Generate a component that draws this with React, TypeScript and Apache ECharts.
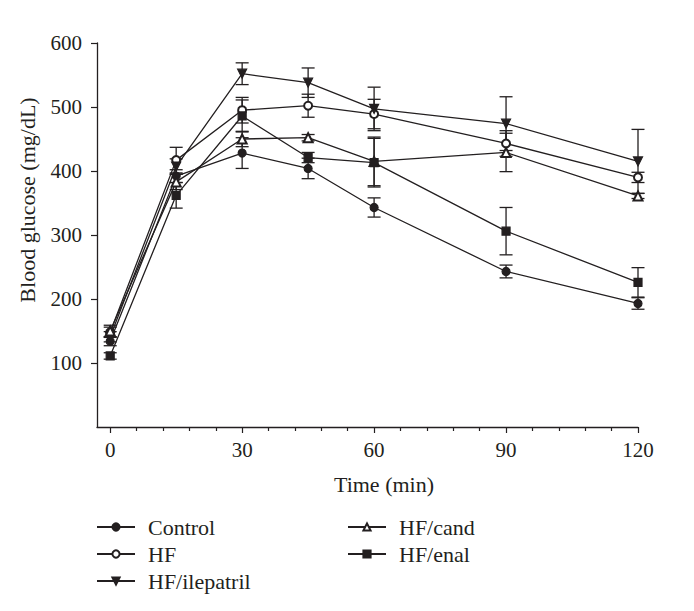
import React, { useEffect, useRef } from "react";
import * as echarts from "echarts";

const times = [0, 15, 30, 45, 60, 90, 120];
const control = [134, 392, 428, 404, 343, 243, 193];
const controlErr = [7, 10, 24, 16, 15, 10, 9];
const hf = [148, 417, 495, 502, 489, 443, 390];
const hfErr = [8, 20, 20, 18, 23, 20, 8];
const ilepatril = [141, 407, 552, 538, 497, 474, 415];
const ilepatrilErr = [8, 12, 17, 23, 34, 42, 50];
const cand = [150, 383, 450, 452, 415, 429, 361];
const candErr = [9, 12, 12, 5, 38, 30, 4];
const enal = [111, 362, 486, 421, 413, 306, 226];
const enalErr = [5, 20, 25, 8, 38, 37, 23];

const xLabels = [0, 30, 60, 90, 120];
const xMinorTicks = [6, 12, 18, 24, 36, 42, 48, 54, 66, 72, 78, 84, 96, 102, 108, 114];
const yLabels = [100, 200, 300, 400, 500, 600];

const INK = "#231f20";
const FONT = "'Liberation Serif', 'Times New Roman', serif";

const seriesDefs = [
  { name: "Control", values: control, errs: controlErr, symbol: "circle", size: 8 },
  { name: "HF", values: hf, errs: hfErr, symbol: "emptyCircle", size: 8 },
  { name: "HF/ilepatril", values: ilepatril, errs: ilepatrilErr, symbol: "path://M0,0L10,0L5,9Z", size: 9 },
  { name: "HF/cand", values: cand, errs: candErr, symbol: "emptyTriangle", size: 9 },
  { name: "HF/enal", values: enal, errs: enalErr, symbol: "rect", size: 8 },
];

export default function App() {
  const ref = useRef<HTMLDivElement>(null);
  useEffect(() => {
    if (!ref.current) return;
    const chart = echarts.init(ref.current, null, { renderer: "svg" });

    const errSeries = seriesDefs.map((d) => ({
      type: "custom",
      name: "err-" + d.name,
      z: 1,
      silent: true,
      encode: { x: 0, y: 1 },
      data: times.map((t, i) => [t, d.values[i], d.errs[i]]),
      renderItem: (params: any, api: any) => {
        const x = api.value(0);
        const y = api.value(1);
        const e = api.value(2);
        const top = api.coord([x, y + e]);
        const bot = api.coord([x, y - e]);
        const hw = 6.5;
        const st = { stroke: INK, lineWidth: 1.3 };
        return {
          type: "group",
          children: [
            { type: "line", shape: { x1: top[0], y1: top[1], x2: bot[0], y2: bot[1] }, style: st },
            { type: "line", shape: { x1: top[0] - hw, y1: top[1], x2: top[0] + hw, y2: top[1] }, style: st },
            { type: "line", shape: { x1: bot[0] - hw, y1: bot[1], x2: bot[0] + hw, y2: bot[1] }, style: st },
          ],
        };
      },
    }));

    const lineSeries = seriesDefs.map((d) => ({
      type: "line",
      name: d.name,
      z: 3,
      data: times.map((t, i) => [t, d.values[i]]),
      symbol: d.symbol,
      symbolSize: d.size,
      showAllSymbol: true,
      lineStyle: { color: INK, width: 1.3 },
      itemStyle: { color: INK, borderColor: INK, borderWidth: 1.2 },
      emphasis: { disabled: true },
    }));

    const legendCommon = {
      orient: "vertical",
      itemWidth: 38,
      itemHeight: 9,
      itemGap: 5,
      padding: 0,
      selectedMode: false,
      textStyle: { fontFamily: FONT, fontSize: 22, color: INK, padding: [0, 0, 0, 8] },
    };

    chart.setOption({
      animation: false,
      backgroundColor: "#fff",
      grid: { left: 97, right: 56, top: 43, bottom: 184, containLabel: false },
      xAxis: [
        {
          type: "value",
          min: -3,
          max: 120,
          position: "bottom",
          axisLine: { show: true, onZero: false, lineStyle: { color: INK, width: 1.3 } },
          axisTick: { show: true, length: 6, customValues: xLabels, lineStyle: { color: INK, width: 1.2 } },
          axisLabel: { customValues: xLabels, margin: 12, fontFamily: FONT, fontSize: 21, color: INK },
          splitLine: { show: false },
        },
        {
          type: "value",
          min: -3,
          max: 120,
          position: "bottom",
          axisLine: { show: false, onZero: false },
          axisTick: { show: true, length: 4, customValues: xMinorTicks, lineStyle: { color: INK, width: 1.2 } },
          axisLabel: { show: false },
          splitLine: { show: false },
        },
      ],
      yAxis: {
        type: "value",
        min: 0,
        max: 600,
        interval: 100,
        axisLine: { show: true, onZero: false, lineStyle: { color: INK, width: 1.3 } },
        axisTick: { show: true, length: 6, customValues: yLabels, lineStyle: { color: INK, width: 1.2 } },
        axisLabel: { customValues: yLabels, margin: 15, fontFamily: FONT, fontSize: 21, color: INK },
        splitLine: { show: false },
      },
      legend: [
        { ...legendCommon, left: 96, top: 516, data: ["Control", "HF", "HF/ilepatril"] },
        { ...legendCommon, left: 347, top: 516, data: ["HF/cand", "HF/enal"] },
      ],
      graphic: [
        {
          type: "text",
          x: 27,
          y: 200,
          rotation: Math.PI / 2,
          style: {
            text: "Blood glucose (mg/dL)",
            font: `22px ${FONT}`,
            fill: INK,
            textAlign: "center",
            textVerticalAlign: "middle",
            align: "center",
            verticalAlign: "middle",
          },
        },
        {
          type: "text",
          x: 384,
          y: 484,
          style: {
            text: "Time (min)",
            font: `22px ${FONT}`,
            fill: INK,
            textAlign: "center",
            textVerticalAlign: "middle",
            align: "center",
            verticalAlign: "middle",
          },
        },
      ],
      series: [...errSeries, ...lineSeries],
    });
    return () => chart.dispose();
  }, []);
  return <div ref={ref} style={{ width: 694, height: 611, margin: -8 }} />;
}
